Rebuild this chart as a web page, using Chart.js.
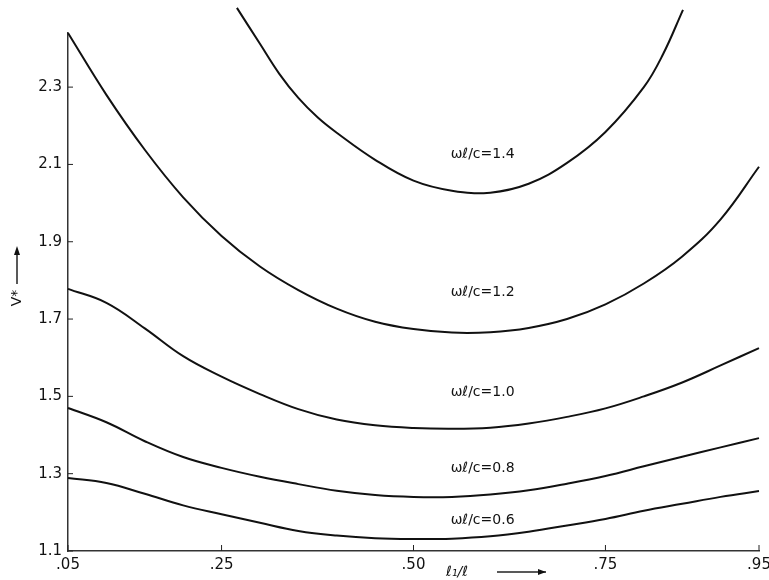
<!DOCTYPE html>
<html>
<head>
<meta charset="utf-8">
<title>V* mot l1/l</title>
<script src="https://cdn.jsdelivr.net/npm/chart.js@4/dist/chart.umd.min.js"></script>
<style>
  html, body { margin: 0; padding: 0; background: #fff; }
  #wrap { width: 769px; height: 580px; }
</style>
</head>
<body>
<div id="wrap"><canvas id="vChart" width="769" height="580"></canvas></div>
<script>
// x-värden (l1/l) som kurvorna läses av vid
const xs = [0.05, 0.10, 0.15, 0.20, 0.25, 0.30, 0.35, 0.40, 0.45, 0.50, 0.55, 0.60, 0.65, 0.70, 0.75, 0.80, 0.85, 0.90, 0.95];

// V* för varje kurva
const v06 = [1.289, 1.276, 1.248, 1.218, 1.195, 1.173, 1.152, 1.140, 1.133, 1.131, 1.132, 1.138, 1.150, 1.166, 1.183, 1.204, 1.222, 1.240, 1.255];
const v08 = [1.470, 1.433, 1.384, 1.343, 1.315, 1.292, 1.273, 1.256, 1.245, 1.240, 1.240, 1.246, 1.257, 1.274, 1.294, 1.319, 1.344, 1.368, 1.392];
const v10 = [1.778, 1.742, 1.676, 1.604, 1.551, 1.506, 1.467, 1.440, 1.425, 1.418, 1.416, 1.419, 1.430, 1.447, 1.469, 1.500, 1.536, 1.580, 1.625];
const v12 = [2.440, 2.280, 2.138, 2.015, 1.915, 1.836, 1.775, 1.727, 1.693, 1.674, 1.665, 1.666, 1.677, 1.700, 1.738, 1.792, 1.862, 1.958, 2.094];

// översta kurvan går utanför diagrammet, egna x-värden
const xs14 = [0.27, 0.30, 0.325, 0.35, 0.375, 0.40, 0.45, 0.50, 0.55, 0.60, 0.65, 0.70, 0.75, 0.80, 0.825, 0.851];
const v14 = [2.505, 2.412, 2.335, 2.272, 2.222, 2.182, 2.112, 2.058, 2.032, 2.027, 2.050, 2.104, 2.184, 2.300, 2.385, 2.500];

// etiketter på kurvorna och var de står (i datakoordinater)
const curveLabels = ["ωℓ/c=1.4", "ωℓ/c=1.2", "ωℓ/c=1.0", "ωℓ/c=0.8", "ωℓ/c=0.6"];
const labelX = [0.59, 0.59, 0.59, 0.59, 0.59];
const labelY = [2.127, 1.768, 1.511, 1.315, 1.180];

// axlar
const xTicks = [0.05, 0.25, 0.50, 0.75, 0.95];
const xTickLabels = [".05", ".25", ".50", ".75", ".95"];
const yTicks = [1.1, 1.3, 1.5, 1.7, 1.9, 2.1, 2.3];
const yTickLabels = ["1.1", "1.3", "1.5", "1.7", "1.9", "2.1", "2.3"];

const FONT = "'DejaVu Sans', sans-serif";

/**
 * Gör om två listor till punkter {x, y}
 */
function toPoints(x, y) {
    return x.map((v, i) => ({ x: v, y: y[i] }));
}

function curve(x, y) {
    return {
        data: toPoints(x, y),
        borderColor: "#111",
        borderWidth: 2,
        pointRadius: 0,
        fill: false,
        tension: 0.4,
        clip: false
    };
}

/**
 * Ritar inåtvända tickar, kurvetiketter och axeltitlar
 */
const extras = {
    id: "extras",
    afterDraw(chart) {
        const ctx = chart.ctx;
        const sx = chart.scales.x;
        const sy = chart.scales.y;
        const area = chart.chartArea;

        ctx.save();
        ctx.strokeStyle = "#222";
        ctx.lineWidth = 1;
        yTicks.forEach(v => {
            const py = sy.getPixelForValue(v);
            ctx.beginPath();
            ctx.moveTo(area.left, py);
            ctx.lineTo(area.left + 5, py);
            ctx.stroke();
        });
        xTicks.forEach(v => {
            const px = sx.getPixelForValue(v);
            ctx.beginPath();
            ctx.moveTo(px, area.bottom);
            ctx.lineTo(px, area.bottom - 6);
            ctx.stroke();
        });

        // kurvetiketter
        ctx.fillStyle = "#111";
        ctx.font = "14px " + FONT;
        ctx.textAlign = "center";
        ctx.textBaseline = "middle";
        curveLabels.forEach((t, i) => {
            ctx.fillText(t, sx.getPixelForValue(labelX[i]), sy.getPixelForValue(labelY[i]));
        });

        // x-titel med pil
        ctx.font = "italic 14px " + FONT;
        ctx.fillText("ℓ₁/ℓ", 457, 572);
        ctx.lineWidth = 1.5;
        ctx.beginPath();
        ctx.moveTo(497, 572);
        ctx.lineTo(546, 572);
        ctx.stroke();
        ctx.beginPath();
        ctx.moveTo(546, 572);
        ctx.lineTo(538, 569);
        ctx.lineTo(538, 575);
        ctx.closePath();
        ctx.fill();

        // y-titel med pil
        ctx.save();
        ctx.translate(17, 298);
        ctx.rotate(-Math.PI / 2);
        ctx.font = "14px " + FONT;
        ctx.fillText("V*", 0, 0);
        ctx.restore();
        ctx.beginPath();
        ctx.moveTo(17, 284);
        ctx.lineTo(17, 249);
        ctx.stroke();
        ctx.beginPath();
        ctx.moveTo(17, 246);
        ctx.lineTo(14, 255);
        ctx.lineTo(20, 255);
        ctx.closePath();
        ctx.fill();
        ctx.restore();
    }
};

document.addEventListener("DOMContentLoaded", () => {
    const ctx = document.getElementById("vChart");
    new Chart(ctx, {
        type: "line",
        data: {
            datasets: [
                curve(xs14, v14),
                curve(xs, v12),
                curve(xs, v10),
                curve(xs, v08),
                curve(xs, v06)
            ]
        },
        options: {
            responsive: false,
            animation: false,
            layout: { padding: { top: 33, right: 10, left: 0, bottom: 0 } },
            plugins: {
                legend: { display: false },
                tooltip: { enabled: false }
            },
            scales: {
                x: {
                    type: "linear",
                    min: 0.05,
                    max: 0.95,
                    afterBuildTicks: s => { s.ticks = xTicks.map(v => ({ value: v })); },
                    afterFit: s => { s.height = 29; s.paddingLeft = 0; s.paddingRight = 0; },
                    ticks: {
                        color: "#111",
                        font: { family: FONT, size: 15 },
                        padding: 5,
                        maxRotation: 0,
                        callback: (v, i) => xTickLabels[i]
                    },
                    grid: { drawOnChartArea: false, drawTicks: false },
                    border: { color: "#333", width: 1.5 }
                },
                y: {
                    type: "linear",
                    min: 1.1,
                    max: 2.44,
                    afterBuildTicks: s => { s.ticks = yTicks.map(v => ({ value: v })); },
                    afterFit: s => { s.width = 68; },
                    ticks: {
                        color: "#111",
                        font: { family: FONT, size: 15 },
                        padding: 6,
                        callback: (v, i) => yTickLabels[i]
                    },
                    grid: { drawOnChartArea: false, drawTicks: false },
                    border: { color: "#333", width: 1.5 }
                }
            }
        },
        plugins: [extras]
    });
});
</script>
</body>
</html>
